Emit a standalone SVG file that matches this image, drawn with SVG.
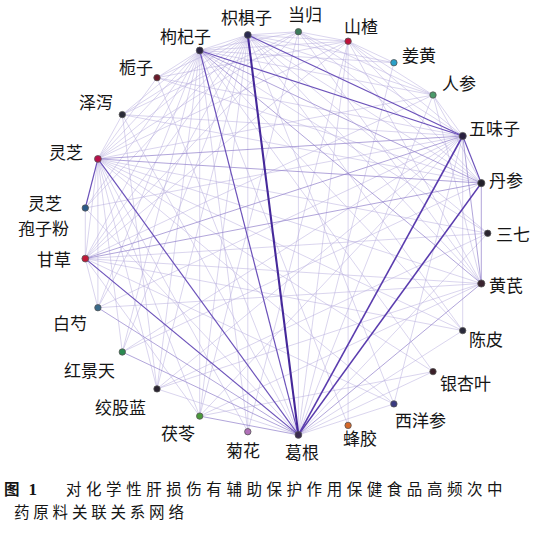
<svg xmlns="http://www.w3.org/2000/svg" width="558" height="534" viewBox="0 0 558 534">
<style>
.e1{stroke:#b3a9dc;stroke-width:0.7;opacity:0.7}
.e2{stroke:#9282cc;stroke-width:0.9;opacity:0.8}
.e3{stroke:#6c52ba;stroke-width:1.2}
.e4{stroke:#5a3cae;stroke-width:1.6}
.e5{stroke:#45289a;stroke-width:2.1}
.n circle{stroke:#555;stroke-width:0.8}
.n text,.lbl{font-family:"Noto Sans CJK SC","Noto Sans CJK JP",sans-serif;font-size:17px;fill:#151515}
.cap{font-family:"Noto Sans CJK SC",sans-serif;font-size:15.5px;fill:#151515}
</style>
<rect width="558" height="534" fill="#ffffff"/>
<g id="edges" fill="none">
<line class="e1" x1="487.7" y1="233.3" x2="97.9" y2="158.9"/>
<line class="e1" x1="487.7" y1="233.3" x2="199.7" y2="50.5"/>
<line class="e1" x1="487.7" y1="233.3" x2="247.8" y2="34.9"/>
<line class="e1" x1="487.7" y1="233.3" x2="85.3" y2="258.6"/>
<line class="e1" x1="487.7" y1="233.3" x2="157.0" y2="388.9"/>
<line class="e1" x1="481.3" y1="283.5" x2="97.9" y2="158.9"/>
<line class="e1" x1="481.3" y1="283.5" x2="85.3" y2="258.6"/>
<line class="e1" x1="481.3" y1="283.5" x2="247.8" y2="34.9"/>
<line class="e1" x1="481.3" y1="283.5" x2="348.1" y2="41.2"/>
<line class="e1" x1="481.3" y1="283.5" x2="298.4" y2="31.7"/>
<line class="e1" x1="481.3" y1="283.5" x2="433.0" y2="95.0"/>
<line class="e1" x1="481.3" y1="283.5" x2="199.7" y2="416.1"/>
<line class="e1" x1="481.3" y1="283.5" x2="157.0" y2="388.9"/>
<line class="e1" x1="481.3" y1="283.5" x2="97.9" y2="307.7"/>
<line class="e1" x1="462.7" y1="330.6" x2="85.3" y2="258.6"/>
<line class="e1" x1="462.7" y1="330.6" x2="97.9" y2="158.9"/>
<line class="e1" x1="462.7" y1="330.6" x2="199.7" y2="50.5"/>
<line class="e1" x1="462.7" y1="330.6" x2="247.8" y2="34.9"/>
<line class="e1" x1="462.7" y1="330.6" x2="462.7" y2="136.0"/>
<line class="e1" x1="433.0" y1="371.6" x2="199.7" y2="416.1"/>
<line class="e1" x1="433.0" y1="371.6" x2="97.9" y2="158.9"/>
<line class="e1" x1="433.0" y1="371.6" x2="199.7" y2="50.5"/>
<line class="e1" x1="393.9" y1="403.9" x2="97.9" y2="158.9"/>
<line class="e1" x1="393.9" y1="403.9" x2="85.3" y2="258.6"/>
<line class="e1" x1="393.9" y1="403.9" x2="247.8" y2="34.9"/>
<line class="e1" x1="393.9" y1="403.9" x2="462.7" y2="136.0"/>
<line class="e1" x1="348.1" y1="425.4" x2="348.1" y2="41.2"/>
<line class="e1" x1="348.1" y1="425.4" x2="199.7" y2="50.5"/>
<line class="e1" x1="247.8" y1="431.7" x2="348.1" y2="41.2"/>
<line class="e1" x1="247.8" y1="431.7" x2="199.7" y2="50.5"/>
<line class="e1" x1="247.8" y1="431.7" x2="247.8" y2="34.9"/>
<line class="e1" x1="247.8" y1="431.7" x2="97.9" y2="158.9"/>
<line class="e1" x1="199.7" y1="416.1" x2="97.9" y2="158.9"/>
<line class="e1" x1="199.7" y1="416.1" x2="199.7" y2="50.5"/>
<line class="e1" x1="199.7" y1="416.1" x2="247.8" y2="34.9"/>
<line class="e1" x1="199.7" y1="416.1" x2="462.7" y2="136.0"/>
<line class="e1" x1="199.7" y1="416.1" x2="85.3" y2="258.6"/>
<line class="e1" x1="199.7" y1="416.1" x2="298.4" y2="31.7"/>
<line class="e1" x1="157.0" y1="388.9" x2="97.9" y2="158.9"/>
<line class="e1" x1="157.0" y1="388.9" x2="199.7" y2="50.5"/>
<line class="e1" x1="157.0" y1="388.9" x2="247.8" y2="34.9"/>
<line class="e1" x1="157.0" y1="388.9" x2="462.7" y2="136.0"/>
<line class="e1" x1="157.0" y1="388.9" x2="122.3" y2="114.6"/>
<line class="e1" x1="122.3" y1="352.0" x2="199.7" y2="50.5"/>
<line class="e1" x1="122.3" y1="352.0" x2="97.9" y2="158.9"/>
<line class="e1" x1="122.3" y1="352.0" x2="247.8" y2="34.9"/>
<line class="e1" x1="122.3" y1="352.0" x2="481.3" y2="183.1"/>
<line class="e1" x1="122.3" y1="352.0" x2="462.7" y2="136.0"/>
<line class="e1" x1="97.9" y1="307.7" x2="97.9" y2="158.9"/>
<line class="e1" x1="97.9" y1="307.7" x2="199.7" y2="50.5"/>
<line class="e1" x1="97.9" y1="307.7" x2="247.8" y2="34.9"/>
<line class="e1" x1="97.9" y1="307.7" x2="462.7" y2="136.0"/>
<line class="e1" x1="97.9" y1="307.7" x2="85.3" y2="258.6"/>
<line class="e1" x1="85.3" y1="258.6" x2="97.9" y2="158.9"/>
<line class="e1" x1="85.3" y1="258.6" x2="199.7" y2="50.5"/>
<line class="e1" x1="85.3" y1="258.6" x2="247.8" y2="34.9"/>
<line class="e1" x1="85.3" y1="258.6" x2="298.4" y2="31.7"/>
<line class="e1" x1="85.3" y1="258.6" x2="348.1" y2="41.2"/>
<line class="e1" x1="85.3" y1="258.6" x2="433.0" y2="95.0"/>
<line class="e1" x1="85.3" y1="258.6" x2="85.3" y2="208.0"/>
<line class="e1" x1="85.3" y1="208.0" x2="199.7" y2="50.5"/>
<line class="e1" x1="85.3" y1="208.0" x2="247.8" y2="34.9"/>
<line class="e1" x1="85.3" y1="208.0" x2="462.7" y2="136.0"/>
<line class="e1" x1="97.9" y1="158.9" x2="199.7" y2="50.5"/>
<line class="e1" x1="97.9" y1="158.9" x2="247.8" y2="34.9"/>
<line class="e1" x1="97.9" y1="158.9" x2="298.4" y2="31.7"/>
<line class="e1" x1="97.9" y1="158.9" x2="348.1" y2="41.2"/>
<line class="e1" x1="97.9" y1="158.9" x2="433.0" y2="95.0"/>
<line class="e1" x1="97.9" y1="158.9" x2="157.0" y2="77.7"/>
<line class="e1" x1="97.9" y1="158.9" x2="122.3" y2="114.6"/>
<line class="e1" x1="122.3" y1="114.6" x2="199.7" y2="50.5"/>
<line class="e1" x1="122.3" y1="114.6" x2="247.8" y2="34.9"/>
<line class="e1" x1="122.3" y1="114.6" x2="462.7" y2="136.0"/>
<line class="e1" x1="122.3" y1="114.6" x2="481.3" y2="183.1"/>
<line class="e1" x1="122.3" y1="114.6" x2="298.4" y2="31.7"/>
<line class="e1" x1="157.0" y1="77.7" x2="199.7" y2="50.5"/>
<line class="e1" x1="157.0" y1="77.7" x2="247.8" y2="34.9"/>
<line class="e1" x1="157.0" y1="77.7" x2="462.7" y2="136.0"/>
<line class="e1" x1="157.0" y1="77.7" x2="481.3" y2="183.1"/>
<line class="e1" x1="157.0" y1="77.7" x2="348.1" y2="41.2"/>
<line class="e1" x1="199.7" y1="50.5" x2="247.8" y2="34.9"/>
<line class="e1" x1="199.7" y1="50.5" x2="298.4" y2="31.7"/>
<line class="e1" x1="199.7" y1="50.5" x2="348.1" y2="41.2"/>
<line class="e1" x1="199.7" y1="50.5" x2="433.0" y2="95.0"/>
<line class="e1" x1="199.7" y1="50.5" x2="393.9" y2="62.7"/>
<line class="e1" x1="247.8" y1="34.9" x2="298.4" y2="31.7"/>
<line class="e1" x1="247.8" y1="34.9" x2="348.1" y2="41.2"/>
<line class="e1" x1="247.8" y1="34.9" x2="481.3" y2="183.1"/>
<line class="e1" x1="247.8" y1="34.9" x2="433.0" y2="95.0"/>
<line class="e1" x1="247.8" y1="34.9" x2="393.9" y2="62.7"/>
<line class="e1" x1="298.4" y1="31.7" x2="348.1" y2="41.2"/>
<line class="e1" x1="298.4" y1="31.7" x2="462.7" y2="136.0"/>
<line class="e1" x1="298.4" y1="31.7" x2="481.3" y2="183.1"/>
<line class="e1" x1="298.4" y1="31.7" x2="433.0" y2="95.0"/>
<line class="e1" x1="348.1" y1="41.2" x2="462.7" y2="136.0"/>
<line class="e1" x1="348.1" y1="41.2" x2="481.3" y2="183.1"/>
<line class="e1" x1="348.1" y1="41.2" x2="393.9" y2="62.7"/>
<line class="e1" x1="348.1" y1="41.2" x2="433.0" y2="95.0"/>
<line class="e1" x1="433.0" y1="95.0" x2="462.7" y2="136.0"/>
<line class="e1" x1="433.0" y1="95.0" x2="481.3" y2="183.1"/>
<line class="e1" x1="298.4" y1="434.9" x2="487.7" y2="233.3"/>
<line class="e1" x1="298.4" y1="434.9" x2="462.7" y2="330.6"/>
<line class="e1" x1="298.4" y1="434.9" x2="433.0" y2="371.6"/>
<line class="e1" x1="298.4" y1="434.9" x2="393.9" y2="403.9"/>
<line class="e1" x1="298.4" y1="434.9" x2="157.0" y2="388.9"/>
<line class="e1" x1="298.4" y1="434.9" x2="85.3" y2="208.0"/>
<line class="e1" x1="298.4" y1="434.9" x2="122.3" y2="114.6"/>
<line class="e1" x1="298.4" y1="434.9" x2="157.0" y2="77.7"/>
<line class="e1" x1="298.4" y1="434.9" x2="298.4" y2="31.7"/>
<line class="e1" x1="298.4" y1="434.9" x2="348.1" y2="41.2"/>
<line class="e1" x1="298.4" y1="434.9" x2="393.9" y2="62.7"/>
<line class="e1" x1="298.4" y1="434.9" x2="433.0" y2="95.0"/>
<line class="e2" x1="481.3" y1="283.5" x2="481.3" y2="183.1"/>
<line class="e2" x1="481.3" y1="283.5" x2="462.7" y2="136.0"/>
<line class="e2" x1="481.3" y1="283.5" x2="199.7" y2="50.5"/>
<line class="e2" x1="85.3" y1="258.6" x2="481.3" y2="183.1"/>
<line class="e2" x1="97.9" y1="158.9" x2="462.7" y2="136.0"/>
<line class="e2" x1="97.9" y1="158.9" x2="481.3" y2="183.1"/>
<line class="e2" x1="85.3" y1="258.6" x2="462.7" y2="136.0"/>
<line class="e2" x1="199.7" y1="50.5" x2="481.3" y2="183.1"/>
<line class="e2" x1="298.4" y1="434.9" x2="481.3" y2="283.5"/>
<line class="e2" x1="298.4" y1="434.9" x2="199.7" y2="416.1"/>
<line class="e2" x1="298.4" y1="434.9" x2="97.9" y2="307.7"/>
<line class="e2" x1="298.4" y1="434.9" x2="122.3" y2="352.0"/>
<line class="e3" x1="298.4" y1="434.9" x2="97.9" y2="158.9"/>
<line class="e3" x1="298.4" y1="434.9" x2="85.3" y2="258.6"/>
<line class="e3" x1="298.4" y1="434.9" x2="199.7" y2="50.5"/>
<line class="e3" x1="199.7" y1="50.5" x2="462.7" y2="136.0"/>
<line class="e3" x1="247.8" y1="34.9" x2="462.7" y2="136.0"/>
<line class="e3" x1="462.7" y1="136.0" x2="481.3" y2="183.1"/>
<line class="e3" x1="97.9" y1="158.9" x2="85.3" y2="208.0"/>
<line class="e4" x1="298.4" y1="434.9" x2="462.7" y2="136.0"/>
<line class="e4" x1="298.4" y1="434.9" x2="481.3" y2="183.1"/>
<line class="e5" x1="298.4" y1="434.9" x2="247.8" y2="34.9"/>
</g>
<g id="nodes">
<g id="n-sanqi" class="n"><circle cx="487.7" cy="233.3" r="3.2" fill="#2a2430"/><text x="496" y="240.5">三七</text></g>
<g id="n-huangqi" class="n"><circle cx="481.3" cy="283.5" r="3.6" fill="#3a2430"/><text x="489" y="291.5">黄芪</text></g>
<g id="n-chenpi" class="n"><circle cx="462.7" cy="330.6" r="3.2" fill="#2a2a3a"/><text x="469" y="345.5">陈皮</text></g>
<g id="n-yinxingye" class="n"><circle cx="433.0" cy="371.6" r="3.2" fill="#3a2028"/><text x="440" y="390">银杏叶</text></g>
<g id="n-xiyangshen" class="n"><circle cx="393.9" cy="403.9" r="3.2" fill="#3a3a80"/><text x="395" y="426.5">西洋参</text></g>
<g id="n-fengjiao" class="n"><circle cx="348.1" cy="425.4" r="3.2" fill="#d4682a"/><text x="343" y="444.5">蜂胶</text></g>
<g id="n-gegen" class="n"><circle cx="298.4" cy="434.9" r="3.4" fill="#3a2a50"/><text x="285" y="458.5">葛根</text></g>
<g id="n-juhua" class="n"><circle cx="247.8" cy="431.7" r="3.2" fill="#b070b8"/><text x="226" y="456.5">菊花</text></g>
<g id="n-fuling" class="n"><circle cx="199.7" cy="416.1" r="3.2" fill="#4a9a3a"/><text x="161" y="439.5">茯苓</text></g>
<g id="n-jiaogulan" class="n"><circle cx="157.0" cy="388.9" r="3.2" fill="#2a2430"/><text x="95" y="413.5">绞股蓝</text></g>
<g id="n-hongjingtian" class="n"><circle cx="122.3" cy="352.0" r="3.2" fill="#2a8a50"/><text x="64" y="376.5">红景天</text></g>
<g id="n-baishao" class="n"><circle cx="97.9" cy="307.7" r="3.2" fill="#3a6a8a"/><text x="53" y="329.5">白芍</text></g>
<g id="n-gancao" class="n"><circle cx="85.3" cy="258.6" r="3.4" fill="#c01838"/><text x="37" y="265.5">甘草</text></g>
<g id="n-lingzhibaozifen" class="n"><circle cx="85.3" cy="208.0" r="3.2" fill="#2a5a88"/><text><tspan x="28" y="210">灵芝</tspan><tspan x="18" y="235">孢子粉</tspan></text></g>
<g id="n-lingzhi" class="n"><circle cx="97.9" cy="158.9" r="3.4" fill="#b8104a"/><text x="49" y="158.5">灵芝</text></g>
<g id="n-zexie" class="n"><circle cx="122.3" cy="114.6" r="3.2" fill="#2a2a38"/><text x="79" y="108.5">泽泻</text></g>
<g id="n-zhizi" class="n"><circle cx="157.0" cy="77.7" r="3.2" fill="#6a1a2a"/><text x="119" y="73.5">栀子</text></g>
<g id="n-gouqizi" class="n"><circle cx="199.7" cy="50.5" r="3.4" fill="#2a2440"/><text x="160" y="42.5">枸杞子</text></g>
<g id="n-zhijuzi" class="n"><circle cx="247.8" cy="34.9" r="3.4" fill="#2a2a50"/><text x="221" y="23.5">枳椇子</text></g>
<g id="n-danggui" class="n"><circle cx="298.4" cy="31.7" r="3.2" fill="#3a7a5a"/><text x="288" y="20.5">当归</text></g>
<g id="n-shanzha" class="n"><circle cx="348.1" cy="41.2" r="3.2" fill="#c0103a"/><text x="344" y="33">山楂</text></g>
<g id="n-jianghuang" class="n"><circle cx="393.9" cy="62.7" r="3.2" fill="#2aa0c8"/><text x="402" y="62">姜黄</text></g>
<g id="n-renshen" class="n"><circle cx="433.0" cy="95.0" r="3.2" fill="#4a9a6a"/><text x="442" y="89.5">人参</text></g>
<g id="n-wuweizi" class="n"><circle cx="462.7" cy="136.0" r="3.6" fill="#2a2040"/><text x="469" y="134.5">五味子</text></g>
<g id="n-danshen" class="n"><circle cx="481.3" cy="183.1" r="3.6" fill="#22202a"/><text x="489" y="186.5">丹参</text></g>
</g>
<g id="caption">
<text class="cap"><tspan x="4" y="494.5" font-weight="bold">图</tspan><tspan font-weight="bold" font-family="Liberation Serif,serif" font-size="17px" dx="9">1</tspan><tspan x="66" y="494.5" letter-spacing="4.55">对化学性肝损伤有辅助保护作用保健食品高频次中</tspan><tspan x="14" y="517.5" letter-spacing="3.8">药原料关联关系网络</tspan></text>
</g>
</svg>
